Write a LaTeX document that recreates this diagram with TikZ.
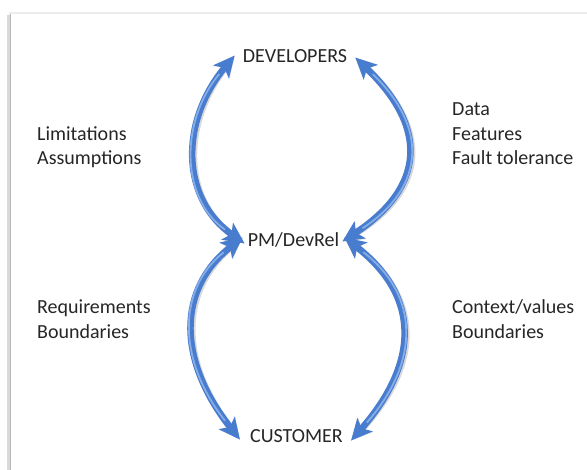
\documentclass[tikz,border=0pt]{standalone}
\usepackage{fontspec}
\setmainfont{Carlito}
\usetikzlibrary{arrows.meta}
\definecolor{arrowblue}{RGB}{72,124,206}
\definecolor{arrowlight}{RGB}{150,186,238}
\definecolor{txt}{RGB}{38,38,38}
\begin{document}
\begin{tikzpicture}[x=1pt,y=-1pt,
  lbl/.style={font=\fontsize{20}{25}\selectfont, text=txt, inner sep=0pt, anchor=base west},
  hub/.style={font=\fontsize{20}{25}\selectfont, text=txt, inner sep=3pt, anchor=base},
  tips/.style={{Stealth[length=21pt,width=20pt,inset=5pt]}-{Stealth[length=21pt,width=20pt,inset=5pt]}},
  flow/.style={tips, line width=6.5pt, draw=arrowblue},
  flowshadow/.style={tips, line width=7pt, draw=black, opacity=0.15},
  shine/.style={line width=1.8pt, draw=arrowlight, opacity=0.8, shorten >=24pt, shorten <=24pt}
]
\useasboundingbox (0,0) rectangle (587,470);
\fill[white] (0,0) rectangle (587,470);
% frame shadow
\draw[gray!15, line width=2pt] (10,470) -- (10,13) -- (587,13);
\draw[gray!30, line width=3pt] (8.5,470) -- (8.5,15);
\draw[gray!55, line width=1pt] (10.5,470) -- (10.5,14);

% hub nodes
\node[hub] (dev) at (295,63) {DEVELOPERS};
\node[hub] (pm) at (293.5,247) {PM/DevRel};
\node[hub] (cust) at (296.5,443) {CUSTOMER};

% side labels
\node[lbl] (l1) at (37,141) {Limitations};
\node[lbl] (l2) at (37,165) {Assumptions};
\node[lbl] (l3) at (37,314) {Requirements};
\node[lbl] (l4) at (37,339) {Boundaries};
\node[lbl] (r1) at (452,116) {Data};
\node[lbl] (r2) at (452,141) {Features};
\node[lbl] (r3) at (452,165) {Fault tolerance};
\node[lbl] (r4) at (452,314) {Context/values};
\node[lbl] (r5) at (452,339) {Boundaries};

% arrows: shadow, body, highlight
\foreach \s/\o in {flowshadow/{2,2}, flow/{0,0}}{
  \begin{scope}[shift={(\o)}]
  \path[\s] ([yshift=-3pt]pm.west) .. controls (180,198) and (180,121) .. ([xshift=-5pt,yshift=1pt]dev.west);
  \path[\s] ([yshift=-1pt]pm.east) .. controls (427,186) and (427,126) .. ([xshift=5pt,yshift=-1pt]dev.east);
  \path[\s] ([xshift=-2pt,yshift=3pt]pm.west) .. controls (177,289) and (177,360) .. ([xshift=-7pt,yshift=-3pt]cust.west);
  \path[\s] ([xshift=2pt,yshift=3pt]pm.east) .. controls (420,296) and (420,362) .. ([xshift=5pt,yshift=-4pt]cust.east);
  \end{scope}
}
\draw[shine] ([yshift=-3pt]pm.west) .. controls (180,198) and (180,121) .. ([xshift=-5pt,yshift=1pt]dev.west);
\draw[shine] ([yshift=-1pt]pm.east) .. controls (427,186) and (427,126) .. ([xshift=5pt,yshift=-1pt]dev.east);
\draw[shine] ([xshift=-2pt,yshift=3pt]pm.west) .. controls (177,289) and (177,360) .. ([xshift=-7pt,yshift=-3pt]cust.west);
\draw[shine] ([xshift=2pt,yshift=3pt]pm.east) .. controls (420,296) and (420,362) .. ([xshift=5pt,yshift=-4pt]cust.east);
\end{tikzpicture}
\end{document}
